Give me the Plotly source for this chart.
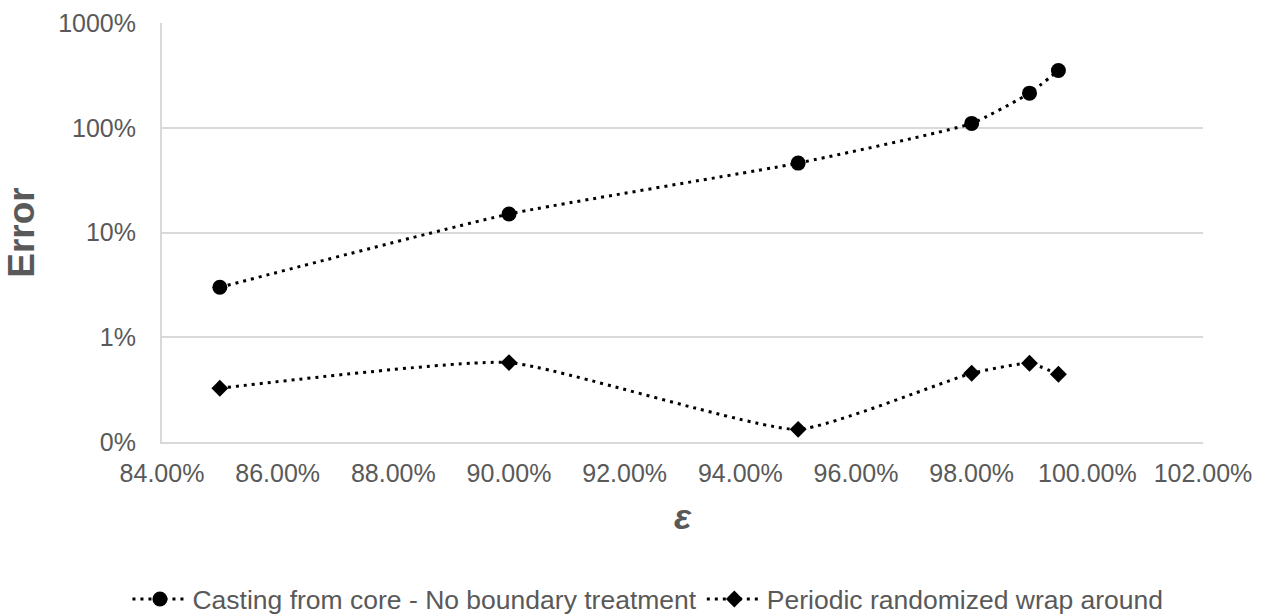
import plotly.graph_objects as go

# Data (x in %, y in %)
eps = [85, 90, 95, 98, 99, 99.5]
casting_no_boundary = [3.0, 15.0, 46.0, 110.0, 214.0, 352.0]
periodic_wrap = [0.326, 0.573, 0.132, 0.453, 0.565, 0.443]

y_tickvals = [0.1, 1, 10, 100, 1000]
y_ticktext = ["0%", "1%", "10%", "100%", "1000%"]

series_names = ["Casting from core - No boundary treatment", "Periodic randomized wrap around"]

FONT = "Liberation Sans, Arial, sans-serif"
TXT = "#595959"
GRID = "#d9d9d9"

fig = go.Figure()
fig.add_trace(go.Scatter(
    x=eps, y=casting_no_boundary, name=series_names[0],
    mode="lines+markers",
    line=dict(color="black", width=3, dash="3px,5px", shape="spline", smoothing=0.45),
    marker=dict(symbol="circle", size=15, color="black", line=dict(width=0)),
))
fig.add_trace(go.Scatter(
    x=eps, y=periodic_wrap, name=series_names[1],
    mode="lines+markers",
    line=dict(color="black", width=3, dash="3px,5px", shape="spline", smoothing=0.45),
    marker=dict(symbol="diamond", size=13, color="black", line=dict(width=0)),
))

fig.update_layout(
    width=1273, height=614,
    margin=dict(l=162, r=70, t=23, b=172, autoexpand=False),
    plot_bgcolor="white", paper_bgcolor="white",
    font=dict(family=FONT, size=25, color=TXT),
    showlegend=True,
    legend=dict(
        orientation="h", xref="container", yref="container",
        x=0.509, xanchor="center", y=0.024, yanchor="middle",
        font=dict(size=26.5, color=TXT), itemwidth=55,
        traceorder="normal",
    ),
    xaxis=dict(
        range=[84, 102], dtick=2, tick0=84,
        tickformat=".2f", ticksuffix="%",
        showgrid=False, zeroline=False,
        showline=True, linecolor=GRID, linewidth=2,
        ticks="", ticklabelstandoff=8, automargin=False,
        tickfont=dict(size=25, color=TXT),
        title=dict(text="<b><i>ε</i></b>", font=dict(size=36, color=TXT), standoff=18),
    ),
    yaxis=dict(
        type="log", range=[-1, 3],
        tickvals=y_tickvals, ticktext=y_ticktext,
        showgrid=True, gridcolor=GRID, gridwidth=2,
        zeroline=False,
        showline=True, linecolor=GRID, linewidth=2,
        ticks="", ticklabelstandoff=19, automargin=False,
        tickfont=dict(size=25, color=TXT),
        title=dict(text="<b>Error</b>", font=dict(size=37, color=TXT), standoff=12),
    ),
)

fig.write_html("out.html", config={"displayModeBar": False},
               post_script="document.body.style.margin='0px';")
